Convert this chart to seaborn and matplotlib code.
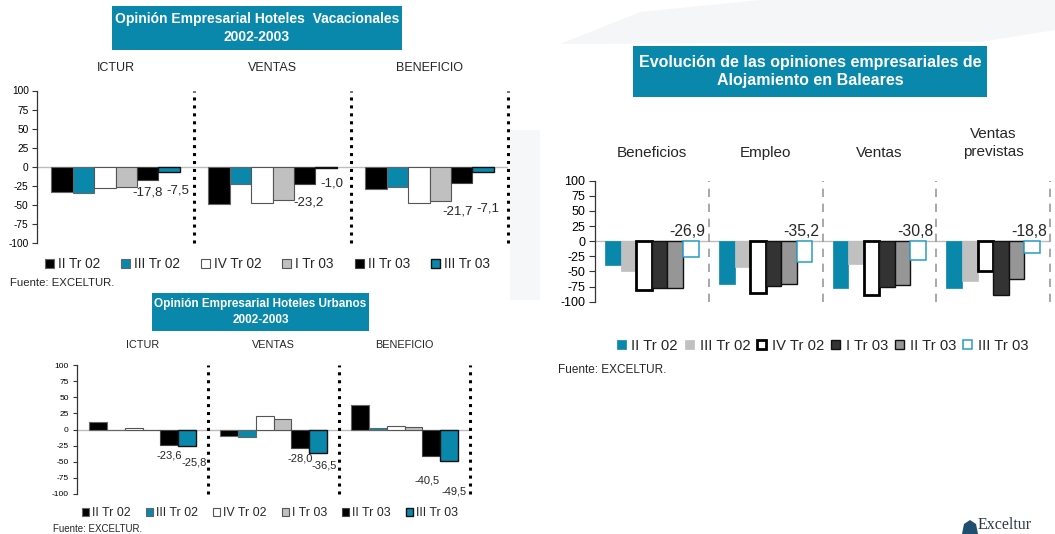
import matplotlib
matplotlib.use('Agg')
import matplotlib.pyplot as plt
from matplotlib.patches import Rectangle, Polygon
import pandas as pd
import seaborn as sns

periods = ['II Tr 02', 'III Tr 02', 'IV Tr 02', 'I Tr 03', 'II Tr 03', 'III Tr 03']

# Hoteles vacacionales
vac_groups = ['ICTUR', 'VENTAS', 'BENEFICIO']
vac_ictur = [-33, -35, -28, -26, -17.8, -7.5]
vac_ventas = [-49, -22, -48, -44, -23.2, -1.0]
vac_beneficio = [-29, -27, -48, -45, -21.7, -7.1]

# Hoteles urbanos
urb_groups = ['ICTUR', 'VENTAS', 'BENEFICIO']
urb_ictur = [12, 0, 3, -1, -23.6, -25.8]
urb_ventas = [-10, -11, 21, 16, -28.0, -36.5]
urb_beneficio = [38, 2, 5, 4, -40.5, -49.5]

# Alojamiento en Baleares
bal_groups = ['Beneficios', 'Empleo', 'Ventas', 'Ventas\nprevistas']
bal_beneficios = [-39, -49, -80, -78, -78, -26.9]
bal_empleo = [-70, -43, -85, -74, -70, -35.2]
bal_ventas = [-78, -37, -89, -76, -72, -30.8]
bal_previstas = [-78, -66, -50, -89, -63, -18.8]

TEAL = '#0A88AB'
W, H = 1055, 534

sns.set_theme(style='white')
plt.rcParams['font.family'] = ['Liberation Sans', 'DejaVu Sans']
plt.rcParams['axes.unicode_minus'] = False


def long_df(groups, series):
    rows = []
    for g, vals in zip(groups, series):
        for p, v in zip(periods, vals):
            rows.append({'group': g, 'period': p, 'value': v})
    return pd.DataFrame(rows)


def fx(px):
    return px / W


def fy(py):
    return 1 - py / H


def make_axes(fig, left, right, top, bottom):
    return fig.add_axes([fx(left), fy(bottom), fx(right - left), (bottom - top) / H])


def title_box(fig, x0, x1, y0, y1, text, size, ls):
    fig.add_artist(Rectangle((fx(x0), fy(y1)), fx(x1 - x0), (y1 - y0) / H,
                             transform=fig.transFigure, facecolor=TEAL, edgecolor='none'))
    fig.text(fx((x0 + x1) / 2), fy((y0 + y1) / 2), text, ha='center', va='center',
             color='white', fontsize=size, fontweight='bold', linespacing=ls)


def fmt(v):
    return f'{v:.1f}'.replace('.', ',')


def draw_panel(ax, groups, series, colors, edges, widths, tick_size, tick_len, tick_pad,
               heading_y, heading_size, sep_style, line_shift=0):
    df = long_df(groups, series)
    sns.barplot(data=df, x='group', y='value', hue='period', order=groups,
                hue_order=periods, palette=colors, saturation=1, width=0.82,
                errorbar=None, legend=False, ax=ax)
    for cont, ec, lw in zip(ax.containers, edges, widths):
        for bar in cont:
            bar.set_edgecolor(ec)
            bar.set_linewidth(lw)
    ax.set_xlim(-0.5, len(groups) - 0.5)
    ax.set_ylim(-100, 100)
    ax.set_yticks(range(-100, 101, 25))
    ax.set_xticks([])
    ax.set_xlabel('')
    ax.set_ylabel('')
    ax.patch.set_alpha(0)
    for s in ['top', 'right', 'bottom']:
        ax.spines[s].set_visible(False)
    ax.spines['left'].set_color('#333333')
    ax.spines['left'].set_linewidth(0.9)
    ax.tick_params(axis='y', left=True, length=tick_len, width=0.8, color='#333333',
                   pad=tick_pad, labelsize=tick_size, labelcolor='black', direction='out')
    ax.axhline(0, color='#bdbdbd', lw=1, zorder=0.5)
    for k in range(len(groups)):
        ax.axvline(k + 0.5, clip_on=False, **sep_style)
    for k, g in enumerate(groups):
        y = heading_y + g.count('\n') * line_shift
        ax.text(k, y, g, transform=ax.get_xaxis_transform(), ha='center',
                va='center', fontsize=heading_size, linespacing=1.35)


fig = plt.figure(figsize=(W / 100, H / 100), dpi=100)
fig.patch.set_facecolor('white')

# faint background decorations
fig.add_artist(Polygon([(fx(560), fy(44)), (fx(640), fy(12)), (fx(760), fy(0)), (fx(1055), fy(0)),
                        (fx(1055), fy(30)), (fx(980), fy(42))], closed=True,
                       transform=fig.transFigure, facecolor='#f5f6f8', edgecolor='none'))
fig.add_artist(Rectangle((fx(510), fy(300)), fx(30), 170 / H, transform=fig.transFigure,
                         facecolor='#f5f7f9', edgecolor='none'))

left_edges = ['#666666', '#666666', '#555555', '#555555', '#444444', '#111111']
left_widths = [0.8, 0.8, 0.8, 0.8, 0.8, 1.0]
left_colors = ['black', TEAL, 'white', '#c0c0c0', 'black', TEAL]
dotted = dict(color='black', lw=2.2, linestyle=(0, (1, 1.6)))

# ---- Vacacionales ----
title_box(fig, 112, 402, 6, 50, 'Opinión Empresarial Hoteles  Vacacionales\n2002-2003', 10, 1.45)
ax1 = make_axes(fig, 37, 508, 90.5, 243)
draw_panel(ax1, vac_groups, [vac_ictur, vac_ventas, vac_beneficio], left_colors, left_edges,
           left_widths, 7.3, 3.5, 2.5, 1.148, 9, dotted)
vac_label_dy = [[-16, -23.5], [-24, -20.5], [-37, -47.5]]
vac_label_dx = [[0, 8.5], [4, 5.5], [-4, 4.5]]
vac_series = [vac_ictur, vac_ventas, vac_beneficio]
for gi in range(3):
    for j, hi in enumerate([4, 5]):
        bar = ax1.containers[hi][gi]
        xc = bar.get_x() + bar.get_width() / 2 + vac_label_dx[gi][j] / 157
        v = vac_series[gi][hi]
        ax1.text(xc, v + vac_label_dy[gi][j], fmt(v), ha='center', va='center', fontsize=9.5)
fig.legend(ax1.containers, periods, loc='center', bbox_to_anchor=(fx(267.5), fy(264)), ncol=6,
           frameon=False, fontsize=9.8, handlelength=0.66, handleheight=0.66,
           handletextpad=0.3, columnspacing=1.53, borderpad=0, borderaxespad=0)
fig.text(fx(10), fy(283), 'Fuente: EXCELTUR.', ha='left', va='center', fontsize=8.2)

# ---- Urbanos ----
title_box(fig, 152, 369, 293, 331, 'Opinión Empresarial Hoteles Urbanos\n2002-2003', 8.5, 1.45)
ax2 = make_axes(fig, 77, 470, 365, 494)
draw_panel(ax2, urb_groups, [urb_ictur, urb_ventas, urb_beneficio], left_colors, left_edges,
           left_widths, 6, 3, 3, 1.155, 7.8, dotted)
urb_label_dy = [[-16.4, -24.6], [-17, -19.3], [-38, -46.5]]
urb_label_dx = [[0, 7], [0, 6], [-4, 4.5]]
urb_series = [urb_ictur, urb_ventas, urb_beneficio]
for gi in range(3):
    for j, hi in enumerate([4, 5]):
        bar = ax2.containers[hi][gi]
        xc = bar.get_x() + bar.get_width() / 2 + urb_label_dx[gi][j] / 131
        v = urb_series[gi][hi]
        ax2.text(xc, v + urb_label_dy[gi][j], fmt(v), ha='center', va='center', fontsize=8)
fig.legend(ax2.containers, periods, loc='center', bbox_to_anchor=(fx(270), fy(513)), ncol=6,
           frameon=False, fontsize=8.9, handlelength=0.59, handleheight=0.59,
           handletextpad=0.25, columnspacing=1.2, borderpad=0, borderaxespad=0)
fig.text(fx(53), fy(529), 'Fuente: EXCELTUR.', ha='left', va='center', fontsize=7)

# ---- Baleares ----
title_box(fig, 633, 987, 46, 97,
          'Evolución de las opiniones empresariales de\nAlojamiento en Baleares', 11.5, 1.3)
ax3 = make_axes(fig, 595, 1050, 180.7, 301.7)
bal_colors = [TEAL, '#c0c0c0', 'white', '#333333', '#969696', 'white']
bal_edges = [TEAL, '#c0c0c0', 'black', '#111111', '#111111', '#2a9cc6']
bal_widths = [0.5, 0.5, 2.0, 1.0, 1.0, 1.1]
dashed = dict(color='#999999', lw=1.2, linestyle=(0, (5, 4)))
draw_panel(ax3, bal_groups, [bal_beneficios, bal_empleo, bal_ventas, bal_previstas],
           bal_colors, bal_edges, bal_widths, 9, 4, 3, 1.229, 11, dashed, line_shift=0.085)
bal_series = [bal_beneficios, bal_empleo, bal_ventas, bal_previstas]
for gi in range(4):
    bar = ax3.containers[5][gi]
    v = bal_series[gi][5]
    ax3.text(bar.get_x() + bar.get_width() + 7 / 114, 16, fmt(v), ha='right', va='center',
             fontsize=11.3)
fig.legend(ax3.containers, periods, loc='center', bbox_to_anchor=(fx(822.5), fy(346)), ncol=6,
           frameon=False, fontsize=10.6, handlelength=0.6, handleheight=0.6,
           handletextpad=0.38, columnspacing=0.49, borderpad=0, borderaxespad=0)
fig.text(fx(558), fy(370), 'Fuente: EXCELTUR.', ha='left', va='center', fontsize=8.5)

# logo in the corner
fig.text(fx(978), fy(533), 'Exceltur', ha='left', va='bottom', fontsize=11.5,
         family=['Liberation Serif', 'DejaVu Serif'], color='#2b3a4a')
fig.add_artist(Polygon([(fx(962), fy(534)), (fx(964), fy(524)), (fx(970), fy(520)),
                        (fx(976), fy(524)), (fx(978), fy(534))], closed=True,
                       transform=fig.transFigure, facecolor='#1f4e6e', edgecolor='none'))

fig.savefig('out.png', dpi=100)
